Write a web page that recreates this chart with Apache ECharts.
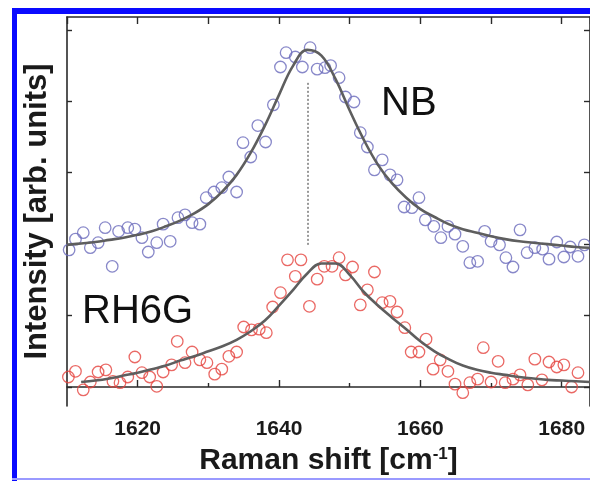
<!DOCTYPE html>
<html>
<head>
<meta charset="utf-8">
<script src="https://cdn.jsdelivr.net/npm/echarts@6/dist/echarts.min.js"></script>
<style>
html,body{margin:0;padding:0;background:#fff;}
#chart{width:590px;height:481px;}
</style>
</head>
<body>
<div id="chart"></div>
<script>
// ---- data ----
const xTickLabels = [1620, 1640, 1660, 1680];
const xMinorTicks = [1630, 1650, 1670];
const yTicks = [0, 1, 2, 3, 4, 5];

const nbX = [1610.3,1611.2,1612.3,1613.3,1614.4,1615.4,1616.4,1617.3,1618.6,1619.6,1620.6,1621.5,1622.7,1623.6,1624.6,1625.7,1626.7,1627.7,1628.8,1629.7,1630.8,1631.9,1632.9,1634.0,1634.9,1636.0,1637.0,1638.1,1639.2,1640.2,1641.0,1642.3,1643.3,1644.4,1645.4,1646.5,1647.3,1648.5,1649.4,1650.6,1651.5,1652.5,1653.5,1654.6,1655.7,1656.7,1657.7,1658.8,1659.8,1660.7,1661.9,1662.9,1663.9,1664.9,1666.0,1667.0,1668.1,1669.1,1670.0,1671.2,1672.1,1673.1,1674.1,1675.1,1676.2,1677.3,1678.2,1679.3,1680.3,1681.2,1682.3,1683.2];
const nbY = [1.92,2.07,2.16,1.95,2.02,2.23,1.69,2.18,2.23,2.21,2.09,1.89,2.02,2.28,2.04,2.37,2.41,2.30,2.28,2.65,2.73,2.79,2.94,2.73,3.42,3.22,3.66,3.43,3.95,4.48,4.68,4.62,4.48,4.75,4.45,4.47,4.50,4.33,4.06,3.99,3.56,3.36,3.04,3.18,2.97,2.90,2.52,2.51,2.65,2.34,2.25,2.09,2.25,2.14,1.97,1.74,1.76,2.18,2.04,1.99,1.81,1.68,2.20,1.88,1.95,1.93,1.79,2.03,1.82,1.96,1.83,1.99];

const rhX = [1610.2,1611.2,1612.3,1613.3,1614.4,1615.5,1616.5,1617.5,1618.6,1619.6,1620.6,1621.7,1622.7,1623.6,1624.8,1625.6,1626.7,1627.7,1628.8,1629.8,1630.9,1631.9,1632.9,1634.0,1635.0,1636.1,1637.2,1638.2,1639.1,1640.2,1641.2,1642.3,1643.1,1644.3,1645.4,1646.4,1647.5,1648.5,1649.4,1650.4,1651.5,1652.5,1653.5,1654.6,1655.7,1656.7,1657.8,1658.7,1659.8,1660.8,1661.8,1662.8,1663.9,1664.9,1666.0,1667.0,1668.1,1668.9,1670.0,1671.0,1672.0,1673.1,1674.1,1675.2,1676.2,1677.2,1678.2,1679.3,1680.3,1681.4,1682.3];
const rhY = [0.14,0.22,-0.04,0.07,0.21,0.24,0.08,0.06,0.14,0.42,0.20,0.14,0.01,0.21,0.31,0.64,0.34,0.49,0.38,0.34,0.18,0.25,0.43,0.49,0.84,0.80,0.81,0.76,1.12,1.32,1.78,1.55,1.78,1.13,1.51,1.69,1.69,1.81,1.57,1.68,1.15,1.36,1.61,1.18,1.20,1.05,0.83,0.49,0.49,0.67,0.25,0.38,0.22,0.04,-0.08,0.06,0.11,0.55,0.07,0.36,0.06,0.11,0.17,0.03,0.39,0.10,0.35,0.28,0.31,0.00,0.20];

const nbFitX = [1610,1612,1614,1616,1618,1620,1622,1624,1626,1628,1630,1632,1634,1636,1638,1640,1642,1644,1646,1648,1650,1652,1654,1656,1658,1660,1662,1664,1666,1668,1670,1672,1674,1676,1678,1680,1682,1684];
const nbFitY = [1.99,2.01,2.03,2.06,2.09,2.13,2.18,2.25,2.33,2.43,2.56,2.74,2.97,3.28,3.66,4.09,4.50,4.72,4.64,4.31,3.87,3.46,3.11,2.85,2.65,2.49,2.38,2.28,2.21,2.16,2.11,2.07,2.04,2.02,2.00,1.98,1.96,1.95];

const rhFitX = [1612,1614,1616,1618,1620,1622,1624,1626,1628,1630,1632,1634,1636,1638,1640,1642,1644,1646,1648,1650,1652,1654,1656,1658,1660,1662,1664,1666,1668,1670,1672,1674,1676,1678,1680,1682,1684];
const rhFitY = [0.07,0.09,0.12,0.16,0.20,0.25,0.30,0.37,0.43,0.50,0.57,0.66,0.78,0.93,1.14,1.36,1.59,1.73,1.73,1.57,1.33,1.14,0.97,0.81,0.64,0.50,0.39,0.30,0.24,0.20,0.17,0.14,0.12,0.10,0.09,0.08,0.07];

const peakLineX = [1644.1, 1644.1];
const peakLineY = [1.99, 4.27];

const seriesNames = ['NB', 'RH6G'];
const xTitle = 'Raman shift [cm{sup|-1}]';
const yTitle = 'Intensity [arb. units]';

// ---- build ----
const zip = (xs, ys) => xs.map((x, i) => [x, ys[i]]);
const FONT = '"Liberation Sans", Arial, Helvetica, sans-serif';
const AX = '#2a2a2a';
const X_MIN = 1610, X_MAX = 1684, Y_MIN = -0.266, Y_MAX = 5.18;

const chart = echarts.init(document.getElementById('chart'), null, {renderer: 'canvas'});
chart.setOption({
  animation: false,
  backgroundColor: '#ffffff',
  grid: {left: 67, top: 17, width: 528, height: 389, containLabel: false},
  xAxis: [
    {
      type: 'value', position: 'bottom', min: X_MIN, max: X_MAX, interval: 10,
      name: xTitle, nameLocation: 'middle', nameGap: 40,
      nameTextStyle: {
        fontFamily: FONT, fontWeight: 'bold', fontSize: 30, color: '#1a1a1a',
        rich: {sup: {fontFamily: FONT, fontWeight: 'bold', fontSize: 17, color: '#1a1a1a', verticalAlign: 'top', padding: [0, 0, 12, 0]}}
      },
      axisLine: {show: true, lineStyle: {color: AX, width: 1.6}},
      axisTick: {show: true, inside: true, length: 7, customValues: xTickLabels, lineStyle: {color: AX, width: 1.4}},
      axisLabel: {show: true, customValues: xTickLabels, formatter: v => String(v), margin: 13, fontFamily: FONT, fontWeight: 'bold', fontSize: 21, color: '#1a1a1a'},
      splitLine: {show: false}
    },
    {
      type: 'value', position: 'bottom', min: X_MIN, max: X_MAX, interval: 10,
      axisLine: {show: false},
      axisTick: {show: true, inside: true, length: 4, customValues: xMinorTicks, lineStyle: {color: AX, width: 1.4}},
      axisLabel: {show: false}, splitLine: {show: false}
    },
    {
      type: 'value', position: 'top', min: X_MIN, max: X_MAX, interval: 10,
      axisLine: {show: true, lineStyle: {color: AX, width: 1.6}},
      axisTick: {show: true, inside: true, length: 7, lineStyle: {color: AX, width: 1.4}},
      axisLabel: {show: false}, splitLine: {show: false}
    }
  ],
  yAxis: [
    {
      type: 'value', position: 'left', min: Y_MIN, max: Y_MAX,
      name: yTitle, nameLocation: 'middle', nameGap: 14,
      nameTextStyle: {fontFamily: FONT, fontWeight: 'bold', fontSize: 31, color: '#1a1a1a'},
      axisLine: {show: true, lineStyle: {color: AX, width: 1.6}},
      axisTick: {show: true, inside: true, length: 5, customValues: yTicks, lineStyle: {color: AX, width: 1.4}},
      axisLabel: {show: false}, splitLine: {show: false}
    },
    {
      type: 'value', position: 'right', min: Y_MIN, max: Y_MAX,
      axisLine: {show: true, lineStyle: {color: AX, width: 1.6}},
      axisTick: {show: true, inside: true, length: 6, customValues: yTicks, lineStyle: {color: AX, width: 1.4}},
      axisLabel: {show: false}, splitLine: {show: false}
    }
  ],
  series: [
    {
      name: seriesNames[0], type: 'scatter', data: zip(nbX, nbY),
      symbol: 'circle', symbolSize: 11.5, clip: false,
      itemStyle: {color: 'rgba(0,0,0,0)', borderColor: '#6a6abb', borderWidth: 1.3}
    },
    {
      name: seriesNames[1], type: 'scatter', data: zip(rhX, rhY),
      symbol: 'circle', symbolSize: 11.5, clip: false,
      itemStyle: {color: 'rgba(0,0,0,0)', borderColor: '#e5443e', borderWidth: 1.3}
    },
    {
      name: seriesNames[0] + ' fit', type: 'line', data: zip(nbFitX, nbFitY),
      smooth: 0.4, showSymbol: false, symbol: 'none', clip: true,
      lineStyle: {color: '#5e5e5e', width: 2.6}
    },
    {
      name: seriesNames[1] + ' fit', type: 'line', data: zip(rhFitX, rhFitY),
      smooth: 0.4, showSymbol: false, symbol: 'none', clip: true,
      lineStyle: {color: '#5e5e5e', width: 2.6}
    },
    {
      name: 'peak', type: 'line', data: zip(peakLineX, peakLineY),
      showSymbol: false, symbol: 'none',
      lineStyle: {color: '#333333', width: 1, type: [2, 2]}
    }
  ],
  graphic: [
    {type: 'rect', left: 12, top: 8, shape: {width: 5, height: 473}, style: {fill: '#0a0aff'}, z: 100},
    {type: 'rect', left: 12, top: 8, shape: {width: 578, height: 6}, style: {fill: '#0a0aff'}, z: 100},
    {type: 'rect', left: 12, top: 478, shape: {width: 578, height: 2}, style: {fill: '#9a9aff'}, z: 100},
    {type: 'text', left: 381, top: 84, style: {text: seriesNames[0], font: '40px "Liberation Sans", Arial, sans-serif', fill: '#111'}},
    {type: 'text', left: 82, top: 292, style: {text: seriesNames[1], font: '40px "Liberation Sans", Arial, sans-serif', fill: '#111'}}
  ]
});
</script>
</body>
</html>
